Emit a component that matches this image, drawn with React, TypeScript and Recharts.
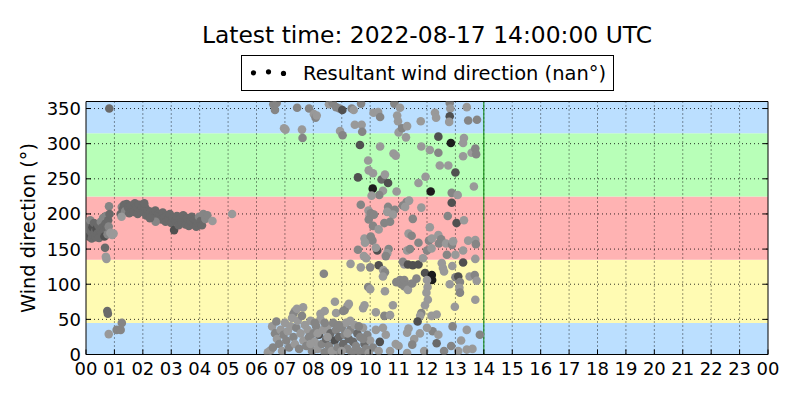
import React from 'react';
import { ScatterChart, Scatter, XAxis, YAxis, ReferenceArea, ReferenceLine } from 'recharts';

type Pt = [number, number, number]; // [hour, direction°, shade index]

const hourTicks = [0, 1, 2, 3, 4, 5, 6, 7, 8, 9, 10, 11, 12, 13, 14, 15, 16, 17, 18, 19, 20, 21, 22, 23, 24];
const dirTicks = [0, 50, 100, 150, 200, 250, 300, 350];
const bandEdges = [0, 45, 135, 225, 315, 360];
const latestHour = 14;

const nightCluster: Pt[] = [
  [0.02, 180, 2], [0.05, 172, 2], [0.08, 186, 2], [0.1, 168, 1], [0.13, 177, 2], [0.15, 191, 3], [0.18, 174, 2],
  [0.2, 165, 2], [0.23, 181, 1], [0.26, 170, 2], [0.28, 187, 2], [0.31, 175, 2], [0.34, 167, 2], [0.37, 179, 1],
  [0.4, 172, 2], [0.43, 184, 2], [0.46, 166, 2], [0.49, 176, 2], [0.52, 189, 3], [0.55, 171, 2], [0.58, 181, 2],
  [0.6, 194, 3], [0.63, 176, 2], [0.65, 168, 1], [0.68, 186, 2], [0.7, 197, 3], [0.73, 178, 2], [0.76, 171, 3],
  [0.78, 191, 2], [0.8, 182, 3], [0.81, 211, 3], [0.83, 200, 2], [0.86, 173, 4], [0.92, 170, 4], [0.97, 172, 4],
  [0.67, 152, 2], [0.7, 139, 4], [0.72, 136, 4], [0.75, 62, 2], [0.77, 58, 2], [0.8, 29, 4], [1.08, 35, 3],
  [1.22, 35, 3], [1.26, 45, 3], [0.82, 350, 2],
];

const morningCluster: Pt[] = [
  [1.22, 200, 2], [1.26, 210, 3], [1.3, 207, 2], [1.34, 213, 2], [1.38, 204, 3], [1.43, 214, 2], [1.48, 209, 2],
  [1.52, 201, 2], [1.57, 212, 2], [1.62, 206, 2], [1.67, 203, 2], [1.72, 215, 2], [1.77, 210, 2], [1.82, 200, 2],
  [1.87, 213, 2], [1.92, 206, 2], [1.97, 209, 2], [2.02, 203, 2], [2.07, 210, 2], [2.12, 198, 2], [2.17, 205, 2],
  [2.22, 200, 2], [2.28, 203, 2], [2.33, 196, 2], [2.38, 199, 2], [2.44, 205, 2], [2.49, 194, 2], [2.54, 200, 2],
  [2.6, 197, 2], [2.65, 192, 2], [2.7, 202, 2], [2.75, 195, 2], [2.8, 189, 2], [2.85, 198, 2], [2.9, 193, 2],
  [2.95, 200, 2], [3.0, 187, 2], [3.05, 195, 2], [3.1, 177, 1], [3.15, 190, 2], [3.2, 197, 2], [3.26, 184, 2],
  [3.31, 193, 2], [3.37, 188, 2], [3.42, 198, 2], [3.5, 185, 2], [3.56, 194, 2], [3.62, 183, 2], [3.67, 190, 2],
  [3.72, 196, 2], [3.78, 185, 2], [3.83, 192, 2], [3.88, 182, 2], [3.93, 188, 2], [3.98, 196, 3], [4.03, 190, 2],
  [4.08, 184, 2], [4.13, 200, 3], [4.2, 193, 3], [4.27, 198, 3], [4.45, 190, 4], [5.14, 200, 4], [1.25, 196, 4],
  [2.05, 215, 2], [2.45, 189, 3], [2.25, 194, 2],
];

const northPoints: Pt[] = [
  [6.59, 356, 3], [6.65, 348, 3], [6.71, 358, 3], [6.97, 322, 4], [7.02, 320, 4], [7.43, 351, 3], [7.6, 320, 4],
  [7.62, 308, 3], [7.85, 350, 3], [8.02, 342, 4], [8.08, 337, 3], [8.12, 340, 4], [8.55, 356, 4], [8.68, 358, 3],
  [8.8, 352, 3], [8.92, 350, 3], [9.02, 348, 1], [8.94, 318, 4], [9.03, 312, 3], [9.35, 350, 3], [9.42, 348, 4],
  [9.46, 327, 4], [9.68, 357, 3], [9.7, 327, 4], [9.72, 317, 3], [10.12, 344, 4], [10.28, 345, 4], [10.35, 338, 3],
  [10.85, 357, 3], [11.05, 351, 4], [10.95, 340, 4], [10.98, 332, 4], [11.0, 316, 4], [11.12, 322, 3], [11.3, 325, 4],
  [11.26, 309, 4], [11.78, 332, 4], [12.28, 344, 4], [12.32, 337, 4], [12.8, 358, 3], [12.82, 350, 4], [12.8, 339, 1],
  [12.78, 331, 4], [13.4, 352, 4], [13.45, 333, 3], [13.76, 334, 3], [12.4, 310, 1], [12.84, 301, 0], [13.27, 301, 4],
  [13.3, 308, 4],
];

const southWestPoints: Pt[] = [
  [9.64, 298, 1], [9.93, 276, 4], [9.95, 262, 4], [10.1, 258, 4], [9.57, 252, 1], [10.09, 236, 0], [10.4, 249, 2],
  [10.52, 256, 4], [10.63, 244, 1], [10.45, 233, 4], [10.32, 227, 3], [10.93, 232, 4], [10.05, 226, 4], [10.35, 296, 4],
  [10.82, 286, 4], [10.9, 283, 4], [11.8, 296, 4], [12.1, 291, 4], [12.4, 287, 3], [13.57, 287, 4], [13.7, 293, 3],
  [13.73, 285, 3], [13.27, 282, 4], [12.45, 269, 4], [12.75, 269, 4], [13.0, 259, 1], [11.95, 253, 4], [11.7, 244, 4],
  [13.65, 239, 4], [12.13, 232, 0], [12.87, 230, 3], [13.08, 227, 4], [12.87, 216, 1],
  [9.67, 213, 3], [9.94, 205, 4], [9.98, 198, 4], [9.95, 192, 3], [10.02, 201, 3], [10.13, 199, 3], [10.63, 210, 3],
  [10.87, 206, 3], [10.6, 203, 4], [10.8, 199, 4], [10.7, 189, 3], [10.5, 187, 3], [10.1, 183, 3], [10.3, 178, 4],
  [9.8, 165, 4], [10.08, 162, 3], [10.02, 168, 3], [9.57, 149, 3], [10.25, 148, 1], [10.65, 150, 3], [10.6, 144, 4],
  [10.55, 140, 3], [11.3, 148, 4], [9.78, 140, 4], [9.86, 137, 4], [11.28, 217, 3], [11.15, 212, 3], [10.2, 152, 4],
  [9.82, 159, 4], [11.35, 172, 4],
  [11.37, 219, 4], [11.23, 210, 4], [11.8, 209, 4], [11.5, 193, 3], [12.73, 197, 3], [13.04, 187, 1], [13.3, 191, 4],
  [12.1, 181, 4], [11.46, 169, 3], [11.7, 159, 3], [12.07, 162, 3], [12.17, 165, 4], [12.4, 170, 4], [12.5, 164, 3],
  [12.42, 158, 3], [12.67, 158, 4], [12.88, 156, 3], [12.92, 161, 4], [13.45, 162, 4], [13.7, 163, 4], [13.72, 157, 3],
  [11.4, 150, 3], [12.0, 148, 3], [12.16, 151, 4], [13.27, 148, 4], [12.7, 142, 3], [13.0, 142, 4], [13.7, 136, 4],
];

const eastPoints: Pt[] = [
  [9.31, 129, 4], [9.67, 124, 4], [10.0, 124, 3], [10.3, 127, 1], [10.46, 120, 4], [10.52, 117, 3], [11.2, 128, 4],
  [11.02, 103, 1], [11.1, 100, 3], [11.2, 97, 3], [11.3, 95, 4], [9.93, 96, 3], [10.0, 93, 4], [10.52, 90, 4],
  [10.8, 70, 4], [8.37, 115, 3], [8.76, 75, 4], [9.2, 69, 4], [9.1, 63, 3], [9.75, 66, 4], [9.8, 70, 4], [10.2, 60, 4],
  [10.5, 55, 3], [10.7, 56, 4], [8.8, 59, 4], [9.05, 62, 3], [9.25, 72, 4], [7.64, 67, 4], [7.35, 62, 4], [7.3, 58, 3],
  [7.42, 65, 4], [8.25, 58, 4], [8.4, 62, 4], [11.15, 132, 3], [10.45, 111, 4], [10.92, 103, 3], [11.05, 106, 3],
  [11.38, 100, 4], [11.33, 128, 1], [11.5, 127, 1], [11.7, 128, 1], [11.86, 137, 4], [11.93, 116, 1], [12.17, 113, 0],
  [12.18, 106, 0], [12.56, 123, 4], [12.6, 118, 4], [12.52, 130, 4], [12.89, 126, 4], [13.0, 110, 3], [13.1, 111, 1],
  [13.27, 131, 1], [13.5, 111, 4], [13.68, 113, 3], [13.75, 105, 4], [13.7, 78, 4], [11.63, 108, 3], [11.2, 106, 3],
  [11.27, 98, 3], [11.33, 92, 4], [11.48, 101, 3], [12.0, 106, 4], [12.02, 96, 4], [11.98, 88, 4], [12.03, 78, 4],
  [11.93, 70, 4], [11.8, 59, 3], [11.76, 55, 4], [11.67, 47, 1], [12.16, 55, 4], [12.34, 57, 4], [12.98, 68, 4],
  [13.16, 103, 3], [13.14, 95, 4], [13.16, 88, 3], [12.8, 100, 4],
];

const northEastPoints: Pt[] = [
  [6.4, 3, 4], [6.5, 6, 4], [6.58, 10, 3], [6.55, 40, 4], [6.65, 30, 3], [6.7, 47, 3], [6.72, 22, 4], [6.8, 15, 3],
  [6.85, 35, 4], [6.9, 5, 4], [6.95, 28, 3], [7.0, 45, 4], [7.05, 20, 3], [7.1, 33, 4], [7.15, 10, 3], [7.2, 40, 4],
  [7.25, 52, 4], [7.3, 25, 3], [7.35, 15, 4], [7.4, 38, 3], [7.45, 48, 4], [7.5, 8, 3], [7.55, 30, 4], [7.6, 55, 3],
  [7.65, 20, 4], [7.7, 42, 4], [7.75, 12, 3], [7.8, 35, 4], [7.85, 25, 3], [7.9, 48, 4], [7.95, 5, 3], [8.0, 30, 3],
  [8.05, 18, 4], [8.1, 40, 3], [8.15, 8, 4], [8.2, 28, 1], [8.25, 50, 4], [8.3, 15, 3], [8.35, 35, 4], [8.4, 3, 3],
  [8.45, 22, 2], [8.5, 40, 4], [8.55, 12, 3], [8.6, 30, 2], [8.65, 5, 4], [8.7, 45, 3], [8.75, 20, 1], [8.8, 35, 3],
  [8.85, 10, 3], [8.9, 25, 2], [8.95, 2, 3], [9.0, 38, 3], [9.05, 15, 2], [9.1, 28, 3], [9.15, 45, 4], [9.2, 8, 3],
  [9.25, 22, 2], [9.3, 35, 3], [9.35, 3, 3], [9.4, 18, 2], [9.45, 42, 4], [9.5, 12, 3], [9.55, 30, 2], [9.6, 5, 3],
  [9.65, 25, 3], [9.7, 0, 3], [9.75, 38, 4], [9.8, 15, 2], [9.85, 8, 3], [9.9, 28, 3], [9.95, 2, 4], [10.0, 20, 4],
  [10.1, 10, 3], [10.2, 35, 4], [10.3, 5, 4], [10.34, 18, 1], [10.9, 15, 4], [11.0, 12, 4], [11.3, 31, 4],
  [10.55, 28, 4], [10.7, 5, 4], [11.35, 37, 4], [11.55, 22, 4], [11.75, 30, 4], [11.48, 14, 3], [12.2, 33, 3],
  [12.4, 28, 4], [12.34, 16, 2], [13.4, 35, 4], [13.86, 28, 3], [13.1, 5, 4], [13.4, 7, 4], [13.6, 8, 4],
  [11.9, 5, 4], [12.6, 5, 3], [11.3, 2, 4], [12.85, 12, 3], [12.0, 38, 4], [12.9, 40, 3], [13.2, 20, 4],
  [10.45, 38, 4], [8.05, 45, 3], [8.5, 25, 4], [8.9, 42, 3], [9.3, 48, 4], [9.6, 40, 3], [9.0, 5, 4], [8.7, 0, 4],
  [9.45, 0, 3], [7.9, 15, 4], [8.15, 30, 4], [8.4, 45, 3], [9.2, 30, 4], [9.75, 22, 3],
];

const shades = ['#1c1c1c', '#505050', '#6a6a6a', '#858585', '#999999', '#ababab'];
const bandColors = ['#bbdfff', '#fffbb3', '#ffb3b3', '#b8ffb8', '#bbdfff'];

const allPoints = [
  ...nightCluster, ...morningCluster, ...northPoints, ...southWestPoints, ...eastPoints, ...northEastPoints,
].map(([h, d, s]) => ({ h, d, s }));

const FONT = 'DejaVu Sans, sans-serif';
const fmtHour = (v: number) => String(v % 24).padStart(2, '0');

const BottomTick = (p: any) => (
  <g>
    <line x1={p.x} y1={p.y} x2={p.x} y2={p.y - 5} stroke="#000" strokeWidth={1} />
    <text x={p.x} y={p.y + 20.5} textAnchor="middle" fontSize={18} fontFamily={FONT} fill="#000">
      {fmtHour(p.payload.value)}
    </text>
  </g>
);
const TopTick = (p: any) => (
  <line x1={p.x} y1={p.y} x2={p.x} y2={p.y + 5} stroke="#000" strokeWidth={1} />
);
const LeftTick = (p: any) => (
  <g>
    <line x1={p.x} y1={p.y} x2={p.x + 5} y2={p.y} stroke="#000" strokeWidth={1} />
    <text x={p.x - 5} y={p.y + 6.5} textAnchor="end" fontSize={18} fontFamily={FONT} fill="#000">
      {p.payload.value}
    </text>
  </g>
);
const RightTick = (p: any) => (
  <line x1={p.x} y1={p.y} x2={p.x - 5} y2={p.y} stroke="#000" strokeWidth={1} />
);

const Dot = (p: any) => <circle cx={p.cx} cy={p.cy} r={4.3} fill={shades[p.payload.s]} />;

export default function App() {
  return (
    <div style={{ position: 'absolute', left: 0, top: 0, width: 800, height: 400, background: '#fff' }}>
      <ScatterChart width={800} height={400} margin={{ top: 91.5, right: 22, bottom: 15.5, left: 46 }}>
        {bandEdges.slice(0, -1).map((lo, i) => (
          <ReferenceArea key={'b' + i} y1={lo} y2={bandEdges[i + 1]} fill={bandColors[i]} fillOpacity={1} stroke="none" />
        ))}
        {hourTicks.slice(1, -1).map((h) => (
          <ReferenceLine key={'gx' + h} x={h} stroke="#000" strokeWidth={0.8} strokeDasharray="1 3" />
        ))}
        {dirTicks.slice(1).map((d) => (
          <ReferenceLine key={'gy' + d} y={d} stroke="#000" strokeWidth={0.8} strokeDasharray="1 3" />
        ))}
        <XAxis type="number" dataKey="h" domain={[0, 24]} ticks={hourTicks} interval={0} allowDataOverflow
          height={30} tickSize={0} tickMargin={0} tick={<BottomTick />} axisLine={{ stroke: '#000' }} tickLine={false} />
        <XAxis xAxisId="top" orientation="top" type="number" domain={[0, 24]} ticks={hourTicks} interval={0} allowDataOverflow
          height={10} tickSize={0} tickMargin={0} tick={<TopTick />} axisLine={{ stroke: '#000' }} tickLine={false} />
        <YAxis type="number" dataKey="d" domain={[0, 360]} ticks={dirTicks} interval={0} allowDataOverflow
          width={40} tickSize={0} tickMargin={0} tick={<LeftTick />} axisLine={{ stroke: '#000' }} tickLine={false} />
        <YAxis yAxisId="right" orientation="right" type="number" domain={[0, 360]} ticks={dirTicks} interval={0} allowDataOverflow
          width={10} tickSize={0} tickMargin={0} tick={<RightTick />} axisLine={{ stroke: '#000' }} tickLine={false} />
        <Scatter data={allPoints} shape={<Dot />} isAnimationActive={false} />
        <ReferenceLine x={latestHour} stroke="#008000" strokeWidth={1} />
      </ScatterChart>
      <svg width={800} height={400} style={{ position: 'absolute', left: 0, top: 0, pointerEvents: 'none' }}>
        <text x={427} y={43} textAnchor="middle" fontSize={23.4} fontFamily={FONT} fill="#000">
          Latest time: 2022-08-17 14:00:00 UTC
        </text>
        <rect x={241.5} y={55.5} width={372} height={35} fill="#fff" stroke="#000" strokeWidth={1} />
        <circle cx={253.5} cy={72.8} r={2.6} fill="#000" />
        <circle cx={268.5} cy={71.8} r={2.6} fill="#000" />
        <circle cx={283.5} cy={73.4} r={2.6} fill="#000" />
        <text x={303} y={79.5} fontSize={19.45} fontFamily={FONT} fill="#000">
          Resultant wind direction (nan°)
        </text>
        <text transform="translate(35,228) rotate(-90)" textAnchor="middle" fontSize={19.3} fontFamily={FONT} fill="#000">
          Wind direction (°)
        </text>
      </svg>
    </div>
  );
}
